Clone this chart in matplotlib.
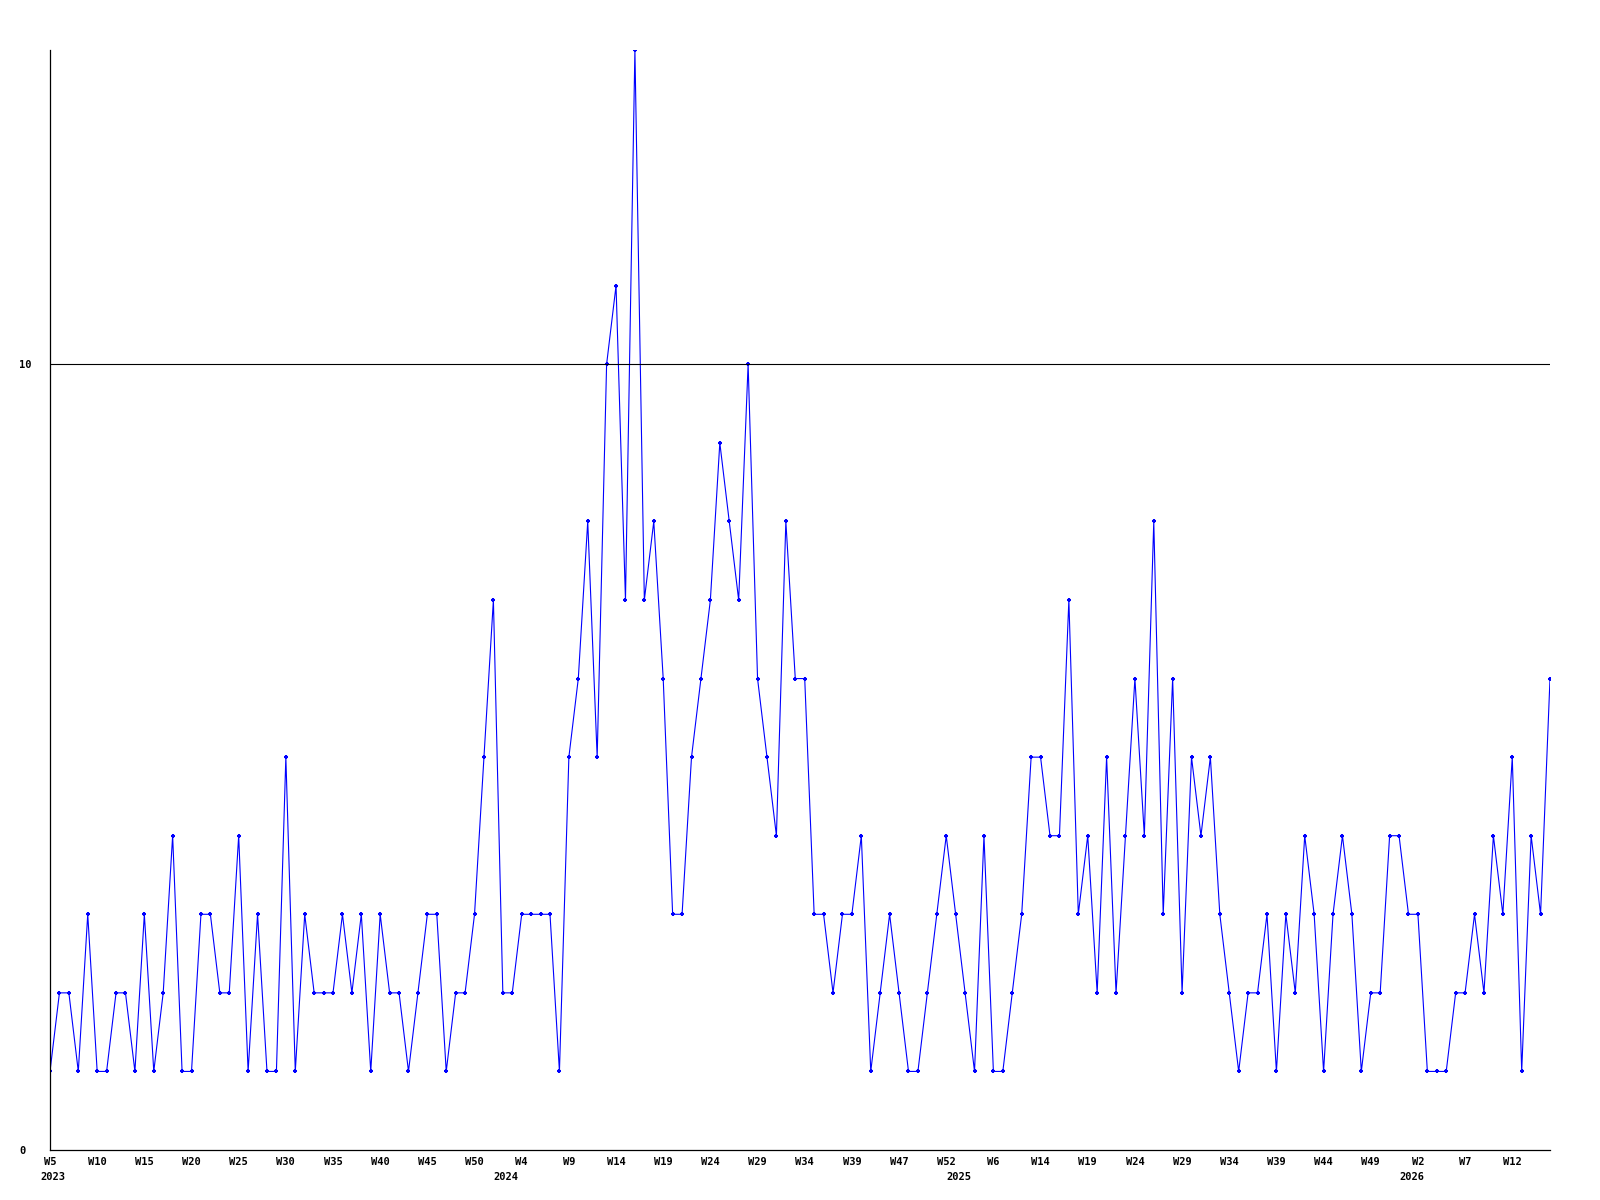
import matplotlib.pyplot as plt

# weekly counts, one point per week (2023 W5 .. 2026)
counts = [1, 2, 2, 1, 3, 1, 1, 2, 2, 1,
          3, 1, 2, 4, 1, 1, 3, 3, 2, 2,
          4, 1, 3, 1, 1, 5, 1, 3, 2, 2,
          2, 3, 2, 3, 1, 3, 2, 2, 1, 2,
          3, 3, 1, 2, 2, 3, 5, 7, 2, 2,
          3, 3, 3, 3, 1, 5, 6, 8, 5, 10,
          11, 7, 14, 7, 8, 6, 3, 3, 5, 6,
          7, 9, 8, 7, 10, 6, 5, 4, 8, 6,
          6, 3, 3, 2, 3, 3, 4, 1, 2, 3,
          2, 1, 1, 2, 3, 4, 3, 2, 1, 4,
          1, 1, 2, 3, 5, 5, 4, 4, 7, 3,
          4, 2, 5, 2, 4, 6, 4, 8, 3, 6,
          2, 5, 4, 5, 3, 2, 1, 2, 2, 3,
          1, 3, 2, 4, 3, 1, 3, 4, 3, 1,
          2, 2, 4, 4, 3, 3, 1, 1, 1, 2,
          2, 3, 2, 4, 3, 5, 1, 4, 3, 6]

# every 5th point gets a week label
week_labels = ["W5", "W10", "W15", "W20", "W25", "W30", "W35", "W40", "W45", "W50",
               "W4", "W9", "W14", "W19", "W24", "W29", "W34", "W39", "W47", "W52",
               "W6", "W14", "W19", "W24", "W29", "W34", "W39", "W44", "W49",
               "W2", "W7", "W12"]
year_labels = ["2023", "2024", "2025", "2026"]
year_pos = [0, 48, 96, 144]

x = list(range(len(counts)))
font = dict(family="DejaVu Sans Mono", weight="bold", size=7.5)

fig = plt.figure(figsize=(16, 12), dpi=100)
ax = fig.add_axes([50 / 1600, 50 / 1200, 1500 / 1600, 1100 / 1200])

ax.plot(x, counts, color="#0000ff", linewidth=0.8, marker="+",
        markersize=3.5, markeredgewidth=1.5)
ax.axhline(10, color="black", linewidth=0.8)

ax.set_xlim(0, len(counts) - 1)
ax.set_ylim(0, 14)

for side in ["top", "right"]:
    ax.spines[side].set_visible(False)
for side in ["left", "bottom"]:
    ax.spines[side].set_linewidth(0.9)

ax.set_xticks(x[::5])
ax.set_xticklabels(week_labels, fontdict=font)
ax.set_yticks([0, 10])
ax.set_yticklabels(["0", "10"], fontdict=font)
for lab in ax.get_yticklabels():
    lab.set_horizontalalignment("left")
ax.tick_params(axis="y", length=0, pad=22)
ax.tick_params(axis="x", length=0, pad=5)

for pos, yr in zip(year_pos, year_labels):
    ax.annotate(yr, xy=(pos, 0), xycoords=("data", "axes fraction"),
                xytext=(3, -27), textcoords="offset pixels",
                ha="center", va="center", **font)

fig.savefig("out.png", dpi=100, facecolor="white")
